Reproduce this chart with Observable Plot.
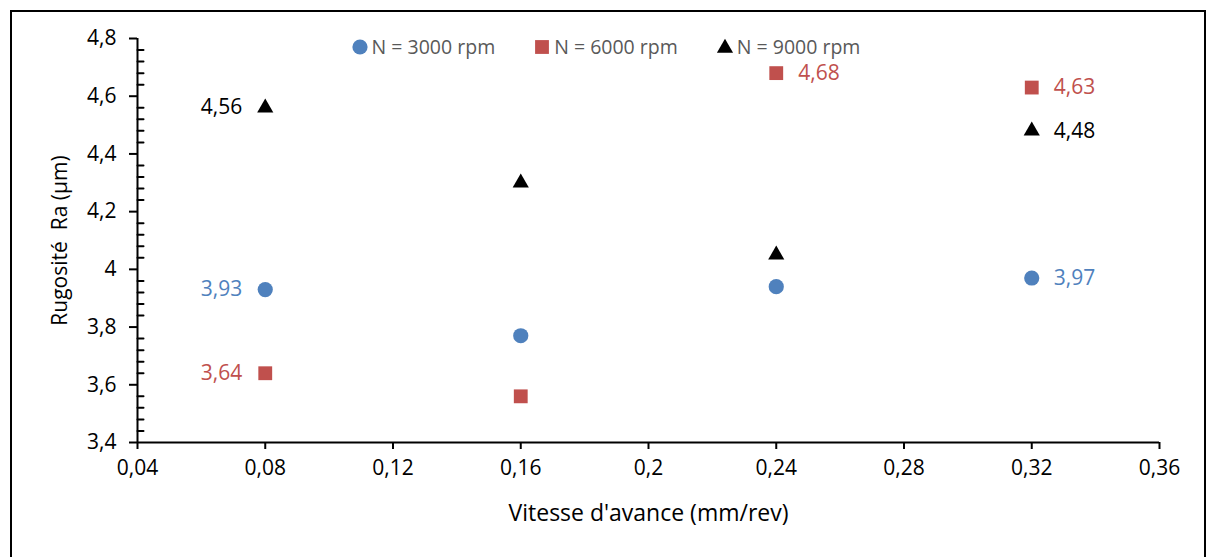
<!DOCTYPE html>
<html>
<head>
<meta charset="utf-8">
<script src="https://cdn.jsdelivr.net/npm/d3@7"></script>
<script src="https://cdn.jsdelivr.net/npm/@observablehq/plot@0.6"></script>
<style>
  body { margin: 0; background: #fff; }
  #wrap { position: relative; width: 1211px; height: 557px; overflow: hidden; background: #fff; font-family: "Open Sans", sans-serif; }
  #border { position: absolute; left: 10px; top: 10px; width: 1196px; height: 600px; border: 2px solid #000; box-sizing: border-box; pointer-events: none; }
  #chart { position: absolute; left: 0; top: 0; }
  #legend { position: absolute; top: 37px; left: 0; width: 1211px; display: flex; justify-content: center; font-size: 19.5px; line-height: 20px; color: #595959; }
  .item { display: flex; align-items: center; margin: 0 19px; white-space: nowrap; height: 20px; }
  .item svg { margin-right: 3px; }
</style>
</head>
<body>
<div id="wrap">
  <div id="chart"></div>
  <div id="legend"></div>
  <div id="border"></div>
</div>
<script>
// ---- data ----
const feed = [0.08, 0.16, 0.24, 0.32];
const ra3000 = [3.93, 3.77, 3.94, 3.97];
const ra6000 = [3.64, 3.56, 4.68, 4.63];
const ra9000 = [4.56, 4.30, 4.05, 4.48];
const seriesNames = ["N = 3000 rpm", "N = 6000 rpm", "N = 9000 rpm"];
// which points carry a value label, and on which side
const labelLeft = {"N = 3000 rpm": [0], "N = 6000 rpm": [0], "N = 9000 rpm": [0]};
const labelRight = {"N = 3000 rpm": [3], "N = 6000 rpm": [2, 3], "N = 9000 rpm": [3]};
const xTicks = [0.04, 0.08, 0.12, 0.16, 0.2, 0.24, 0.28, 0.32, 0.36];
const yTicks = [3.4, 3.6, 3.8, 4.0, 4.2, 4.4, 4.6, 4.8];
const yMinor = [3.44, 3.48, 3.52, 3.56, 3.64, 3.68, 3.72, 3.76, 3.84, 3.88, 3.92, 3.96,
                4.04, 4.08, 4.12, 4.16, 4.24, 4.28, 4.32, 4.36, 4.44, 4.48, 4.52, 4.56,
                4.64, 4.68, 4.72, 4.76];
const xTitle = "Vitesse d'avance (mm/rev)";
const yTitle = "Rugosité  Ra (µm)";

const colors = {"N = 3000 rpm": "#4F81BD", "N = 6000 rpm": "#C0504D", "N = 9000 rpm": "#000000"};
const symbols = {"N = 3000 rpm": "circle", "N = 6000 rpm": "square", "N = 9000 rpm": "triangle"};
const radii = {"N = 3000 rpm": 7.6, "N = 6000 rpm": 7.8, "N = 9000 rpm": 6.0};

const values = [ra3000, ra6000, ra9000];
const rows = [];
seriesNames.forEach((s, si) => {
  feed.forEach((f, i) => {
    rows.push({series: s, x: f, y: values[si][i],
      side: labelLeft[s].includes(i) ? "left" : labelRight[s].includes(i) ? "right" : null});
  });
});

const fmt = d => String(+(+d).toFixed(2)).replace(".", ",");
const tickShape = {draw(context, l) { context.moveTo(0, 0); context.lineTo(0, -l); }};

const marks = [
  Plot.ruleX([0.04], {strokeWidth: 2}),
  Plot.ruleY([3.4], {strokeWidth: 2}),
  Plot.axisY(yTicks, {tickSize: 8, tickPadding: 13, strokeWidth: 2, tickFormat: fmt, label: null, fill: "#000", fontSize: 21}),
  Plot.axisX(xTicks, {tickSize: 7, tickPadding: 11, strokeWidth: 2, tickFormat: fmt, label: null, fill: "#000", fontSize: 21}),
  Plot.vector(yMinor, {y: d => d, frameAnchor: "left", rotate: 90, length: 6, anchor: "start", shape: tickShape, strokeWidth: 2}),
  Plot.text([yTitle], {frameAnchor: "left", textAnchor: "middle", lineAnchor: "middle", dx: -77, rotate: -90, fontSize: 21, fill: "#000"}),
  Plot.text([xTitle], {frameAnchor: "bottom", textAnchor: "middle", lineAnchor: "middle", dy: 71, fontSize: 23, fill: "#000"})
];
seriesNames.forEach(s => {
  const d = rows.filter(r => r.series === s);
  marks.push(Plot.dot(d, {x: "x", y: "y", symbol: () => symbols[s], r: radii[s], fill: colors[s], stroke: "none"}));
  marks.push(Plot.text(d.filter(r => r.side === "left"), {x: "x", y: "y", text: r => fmt(r.y), textAnchor: "end", dx: -23, fill: colors[s], fontSize: 21}));
  marks.push(Plot.text(d.filter(r => r.side === "right"), {x: "x", y: "y", text: r => fmt(r.y), textAnchor: "start", dx: 22, fill: colors[s], fontSize: 21}));
});

const chart = Plot.plot({
  width: 1211,
  height: 557,
  marginLeft: 137,
  marginRight: 52,
  marginTop: 38,
  marginBottom: 115,
  style: {fontFamily: "Open Sans", fontSize: "21px", color: "#000", background: "#fff"},
  x: {domain: [0.04, 0.36]},
  y: {domain: [3.4, 4.8]},
  symbol: {domain: ["circle", "square", "triangle"], range: ["circle", "square", "triangle"]},
  marks
});
document.getElementById("chart").appendChild(chart);

// legend
const legend = document.getElementById("legend");
seriesNames.forEach(s => {
  const item = document.createElement("div");
  item.className = "item";
  const isTri = s === "N = 9000 rpm";
  const sym = d3.symbol(s === "N = 3000 rpm" ? d3.symbolCircle : s === "N = 6000 rpm" ? d3.symbolSquare : d3.symbolTriangle,
    Math.PI * radii[s] * radii[s])();
  item.innerHTML = `<svg width="18" height="18" viewBox="-9 ${isTri ? -10 : -9} 18 18"><path d="${sym}" fill="${colors[s]}"></path></svg><span>${s}</span>`;
  legend.appendChild(item);
});
</script>
</body>
</html>
